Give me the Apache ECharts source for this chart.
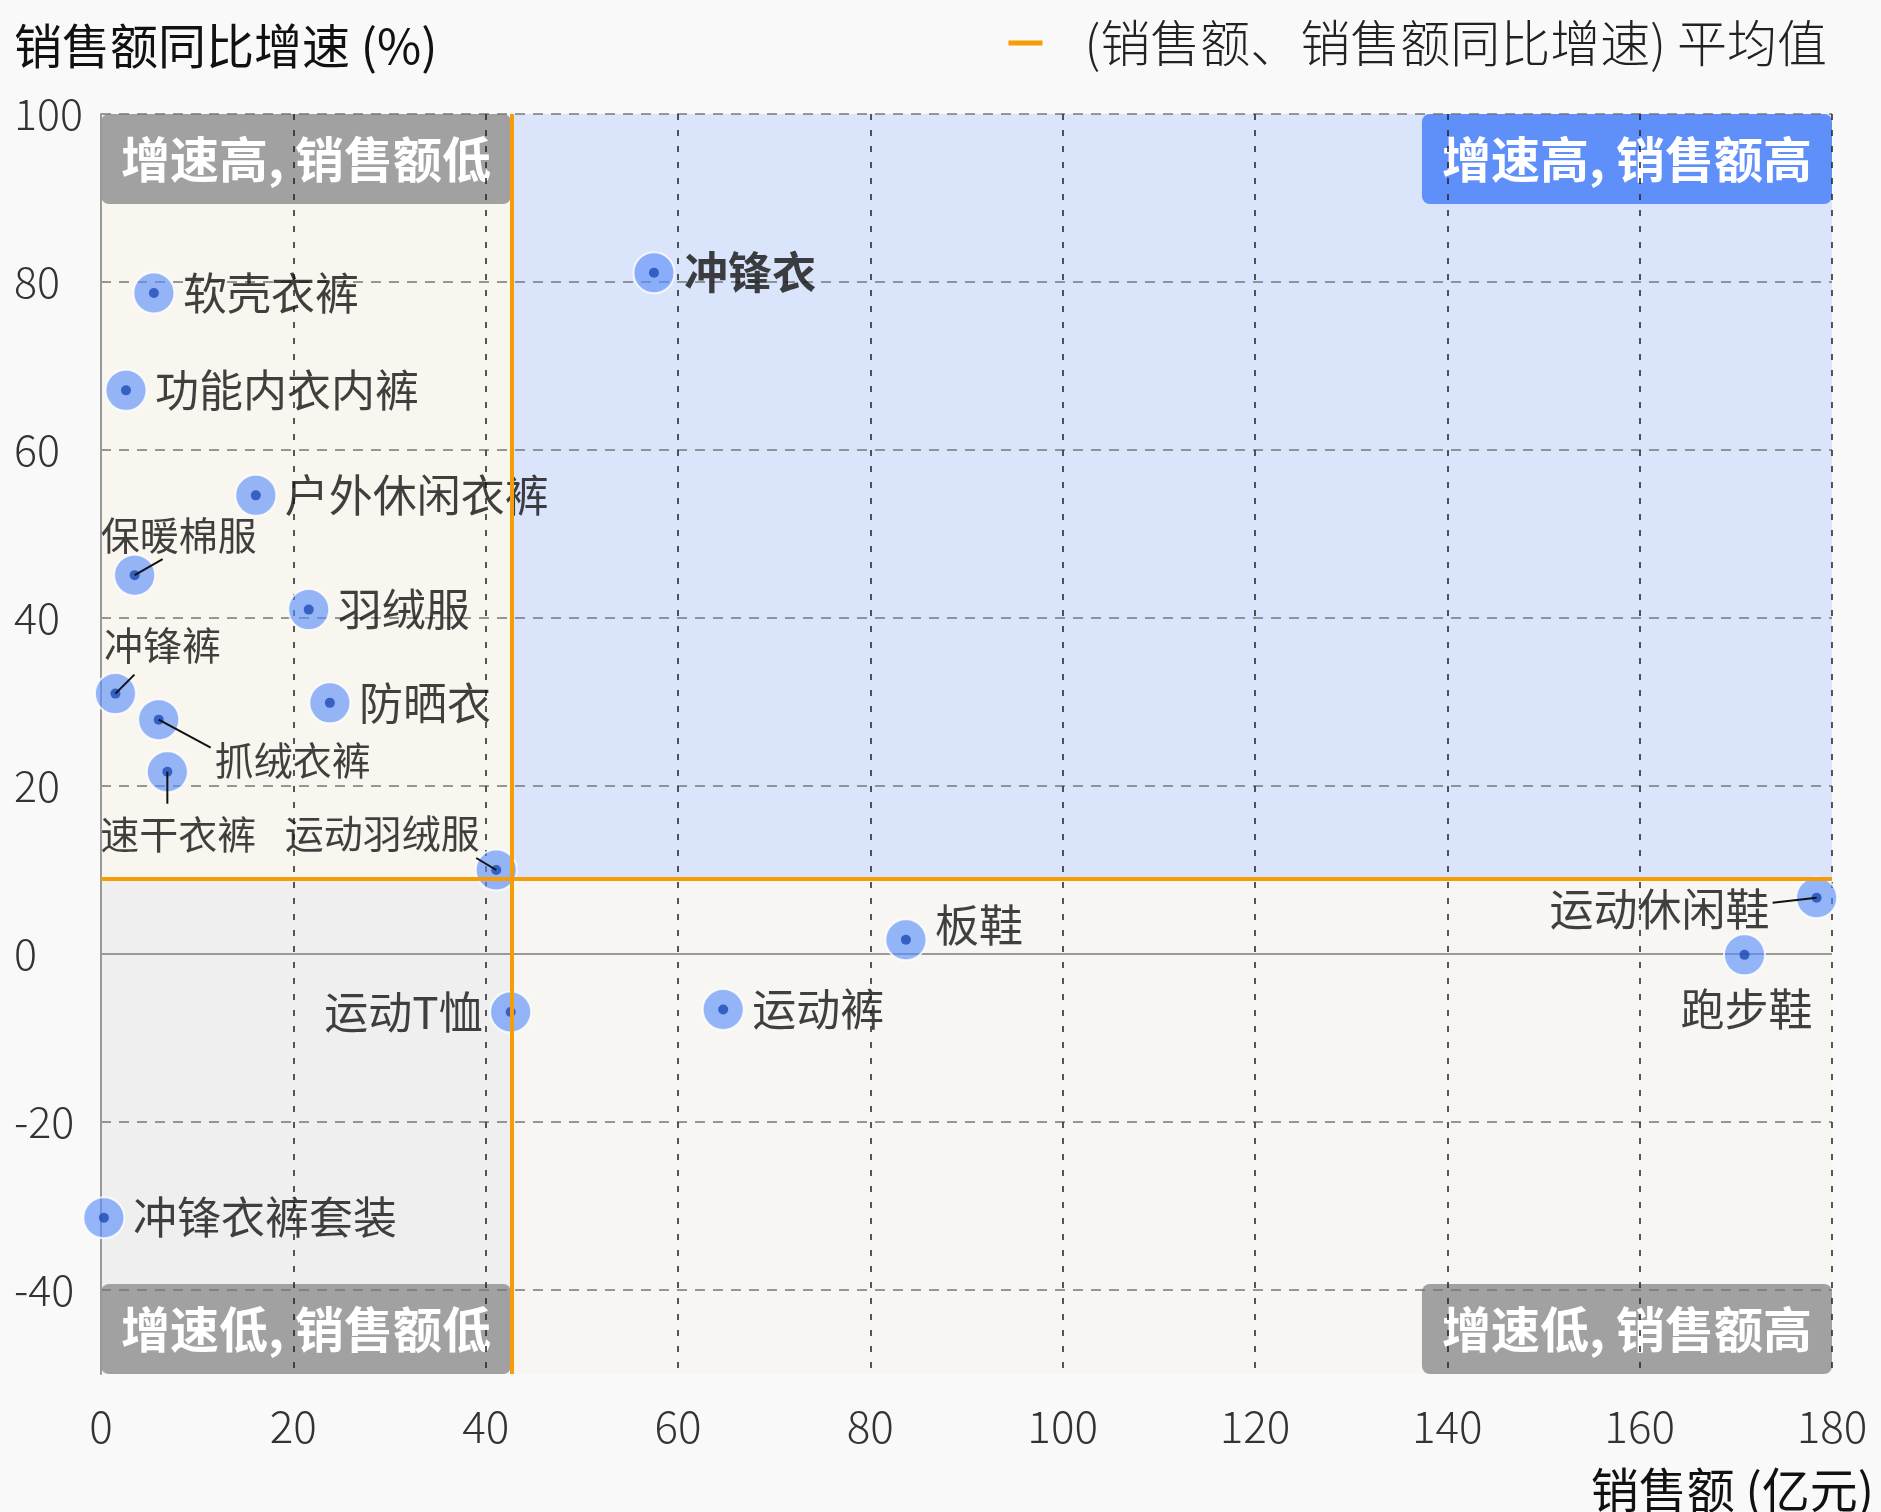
<!DOCTYPE html>
<html><head><meta charset="utf-8">
<script src="https://cdn.jsdelivr.net/npm/echarts@6/dist/echarts.min.js"></script>
<style>html,body{margin:0;padding:0;background:#f8f9f8;}#c{width:1881px;height:1512px;}</style>
</head><body><div id="c"></div>
<script>
// ---- data ----
const categories = ['冲锋衣','软壳衣裤','功能内衣内裤','户外休闲衣裤','保暖棉服','羽绒服','冲锋裤','防晒衣','抓绒衣裤','速干衣裤','运动羽绒服','运动T恤','运动裤','板鞋','运动休闲鞋','跑步鞋','冲锋衣裤套装'];
const salesValues  = [57.5, 5.5, 2.6, 16.1, 3.5, 21.6, 1.5, 23.8, 6.0, 6.9, 41.1, 42.6, 64.7, 83.7, 178.4, 170.9, 0.3];
const growthValues = [81.1, 78.7, 67.1, 54.6, 45.1, 41.0, 31.0, 29.9, 27.9, 21.7, 10.0, -6.9, -6.6, 1.7, 6.7, -0.1, -31.4];
const meanSales = 42.7;
const meanGrowth = 8.9;
const xRange = [0, 180];
const yRange = [-50, 100];
const quadrantNames = ['增速高, 销售额低', '增速高, 销售额高', '增速低, 销售额低', '增速低, 销售额高'];
const legendName = '(销售额、销售额同比增速) 平均值';
const titleText = '销售额同比增速 (%)';
const xNameText = '销售额 (亿元)';

// ---- styles / label placement (pixel offsets, style only) ----
const FONT = '"Noto Sans CJK SC", "Noto Sans", sans-serif';
const placement = {
  '冲锋衣': {position: 'right', distance: 25, fontWeight: 'bold'},
  '保暖棉服': {position: 'inside', offset: [44, -40], size: 39, line: [28, -16]},
  '冲锋裤': {position: 'inside', offset: [47, -48], size: 39, line: [19, -19]},
  '抓绒衣裤': {position: 'inside', offset: [134, 41], size: 39, line: [52, 28]},
  '速干衣裤': {position: 'inside', offset: [11, 62], size: 39, line: [0, 32]},
  '运动羽绒服': {position: 'inside', offset: [-114, -37], size: 39, line: [-20, -12]},
  '运动休闲鞋': {position: 'inside', offset: [-157, 12], line: [-44, 5]},
  '跑步鞋': {position: 'inside', offset: [2, 54]},
  '运动T恤': {position: 'left', distance: 23},
  '板鞋': {position: 'right', distance: 24, offset: [0, -14]}
};

const points = categories.map((name, i) => [salesValues[i], growthValues[i], name]);
const dotData = categories.map((name, i) => {
  const p = placement[name] || {position: 'right', distance: 24};
  return {value: [salesValues[i], growthValues[i], name], name: name,
    label: {position: p.position, distance: p.distance || 0, offset: p.offset || [0, 0],
            fontWeight: p.fontWeight || 'normal', fontSize: p.size || 44}};
});
const leaderData = [];
categories.forEach((name, i) => { if (placement[name] && placement[name].line) leaderData.push([salesValues[i], growthValues[i], i]); });

const boxLabel = (pos, bg) => ({
  show: true, position: pos, distance: 0, color: '#fff', fontSize: 49, fontWeight: 'bold',
  fontFamily: FONT, backgroundColor: bg, borderRadius: 8, padding: [21, 20], lineHeight: 48
});

const chart = echarts.init(document.getElementById('c'));
chart.setOption({
  animation: false,
  backgroundColor: '#f8f9f8',
  grid: {left: 101, right: 49, top: 114, bottom: 138},
  legend: {
    data: [{name: legendName, icon: 'rect'}],
    right: 49, top: 9, itemWidth: 34, itemHeight: 5,
    textStyle: {fontSize: 50, fontFamily: FONT, fontWeight: 300, color: '#222', padding: [0, 0, 0, 37], lineHeight: 58}
  },
  xAxis: {
    type: 'value', min: xRange[0], max: xRange[1], interval: 20,
    axisLine: {show: false}, axisTick: {show: false},
    axisLabel: {fontSize: 44, fontFamily: FONT, fontWeight: 300, color: '#333', margin: 30},
    splitLine: {show: true, showMinLine: false, showMaxLine: true, lineStyle: {color: '#222', width: 1.5, type: [6, 10]}}
  },
  yAxis: {
    type: 'value', min: yRange[0], max: yRange[1], minInterval: 20, maxInterval: 20, splitNumber: 7,
    axisLine: {show: true, lineStyle: {color: '#999', width: 2}}, axisTick: {show: false},
    axisLabel: {fontSize: 43, fontFamily: FONT, fontWeight: 300, color: '#333', align: 'left', margin: 87, showMinLabel: false},
    splitLine: {show: true, showMinLine: false, showMaxLine: true, lineStyle: {color: '#777', width: 1.5, type: [10, 8]}}
  },
  graphic: [
    {type: 'text', x: 14, y: 46, style: {text: titleText, fontSize: 48, fontFamily: FONT, fill: '#111', align: 'left', verticalAlign: 'middle'}},
    {type: 'text', x: 1874, y: 1490, style: {text: xNameText, fontSize: 48, fontFamily: FONT, fill: '#111', align: 'right', verticalAlign: 'middle'}}
  ],
  series: [
    {
      name: 'quadrants', type: 'line', data: [], silent: true, z: 0,
      markArea: {
        silent: true, z: -1,
        data: [
          [{name: quadrantNames[0], xAxis: xRange[0], yAxis: meanGrowth, itemStyle: {color: '#f9f6f0'}, label: boxLabel('insideTopLeft', '#a0a1a0')}, {xAxis: meanSales, yAxis: yRange[1]}],
          [{name: quadrantNames[1], xAxis: meanSales, yAxis: meanGrowth, itemStyle: {color: '#dae4fb'}, label: boxLabel('insideTopRight', '#5f8ff9')}, {xAxis: xRange[1], yAxis: yRange[1]}],
          [{name: quadrantNames[2], xAxis: xRange[0], yAxis: yRange[0], itemStyle: {color: '#efefef'}, label: boxLabel('insideBottomLeft', '#a0a1a0')}, {xAxis: meanSales, yAxis: meanGrowth}],
          [{name: quadrantNames[3], xAxis: meanSales, yAxis: yRange[0], itemStyle: {color: '#f7f6f3'}, label: boxLabel('insideBottomRight', '#a0a1a0')}, {xAxis: xRange[1], yAxis: meanGrowth}]
        ]
      },
      markLine: {
        silent: true, z: 1, symbol: 'none', label: {show: false},
        lineStyle: {color: '#999', width: 2, type: 'solid'},
        data: [{yAxis: 0}]
      }
    },
    {
      name: 'circles', type: 'scatter', data: points, symbol: 'circle', symbolSize: 41, z: 2, silent: true,
      itemStyle: {color: 'rgba(91,143,249,0.8)', borderColor: '#fff', borderWidth: 2}
    },
    {
      name: 'dots', type: 'scatter', data: dotData, symbol: 'circle', symbolSize: 10, z: 3, silent: true,
      itemStyle: {color: '#1e4bb4'},
      label: {show: true, formatter: p => p.value[2], fontSize: 44, fontFamily: FONT, color: '#111'}
    },
    {
      name: 'leaders', type: 'custom', data: leaderData, z: 4, silent: true,
      encode: {x: 0, y: 1},
      renderItem: (params, api) => {
        const p = api.coord([api.value(0), api.value(1)]);
        const d = placement[categories[api.value(2)]].line;
        return {type: 'line', shape: {x1: p[0], y1: p[1], x2: p[0] + d[0], y2: p[1] + d[1]},
                style: {stroke: '#111', lineWidth: 2}};
      }
    },
    {
      name: legendName, type: 'line', data: [], color: '#f59c07', z: 5,
      markLine: {
        silent: true, symbol: 'none', label: {show: false},
        lineStyle: {color: '#f59c07', width: 4, type: 'solid'},
        data: [{xAxis: meanSales}, {yAxis: meanGrowth}]
      }
    }
  ]
});
</script></body></html>
